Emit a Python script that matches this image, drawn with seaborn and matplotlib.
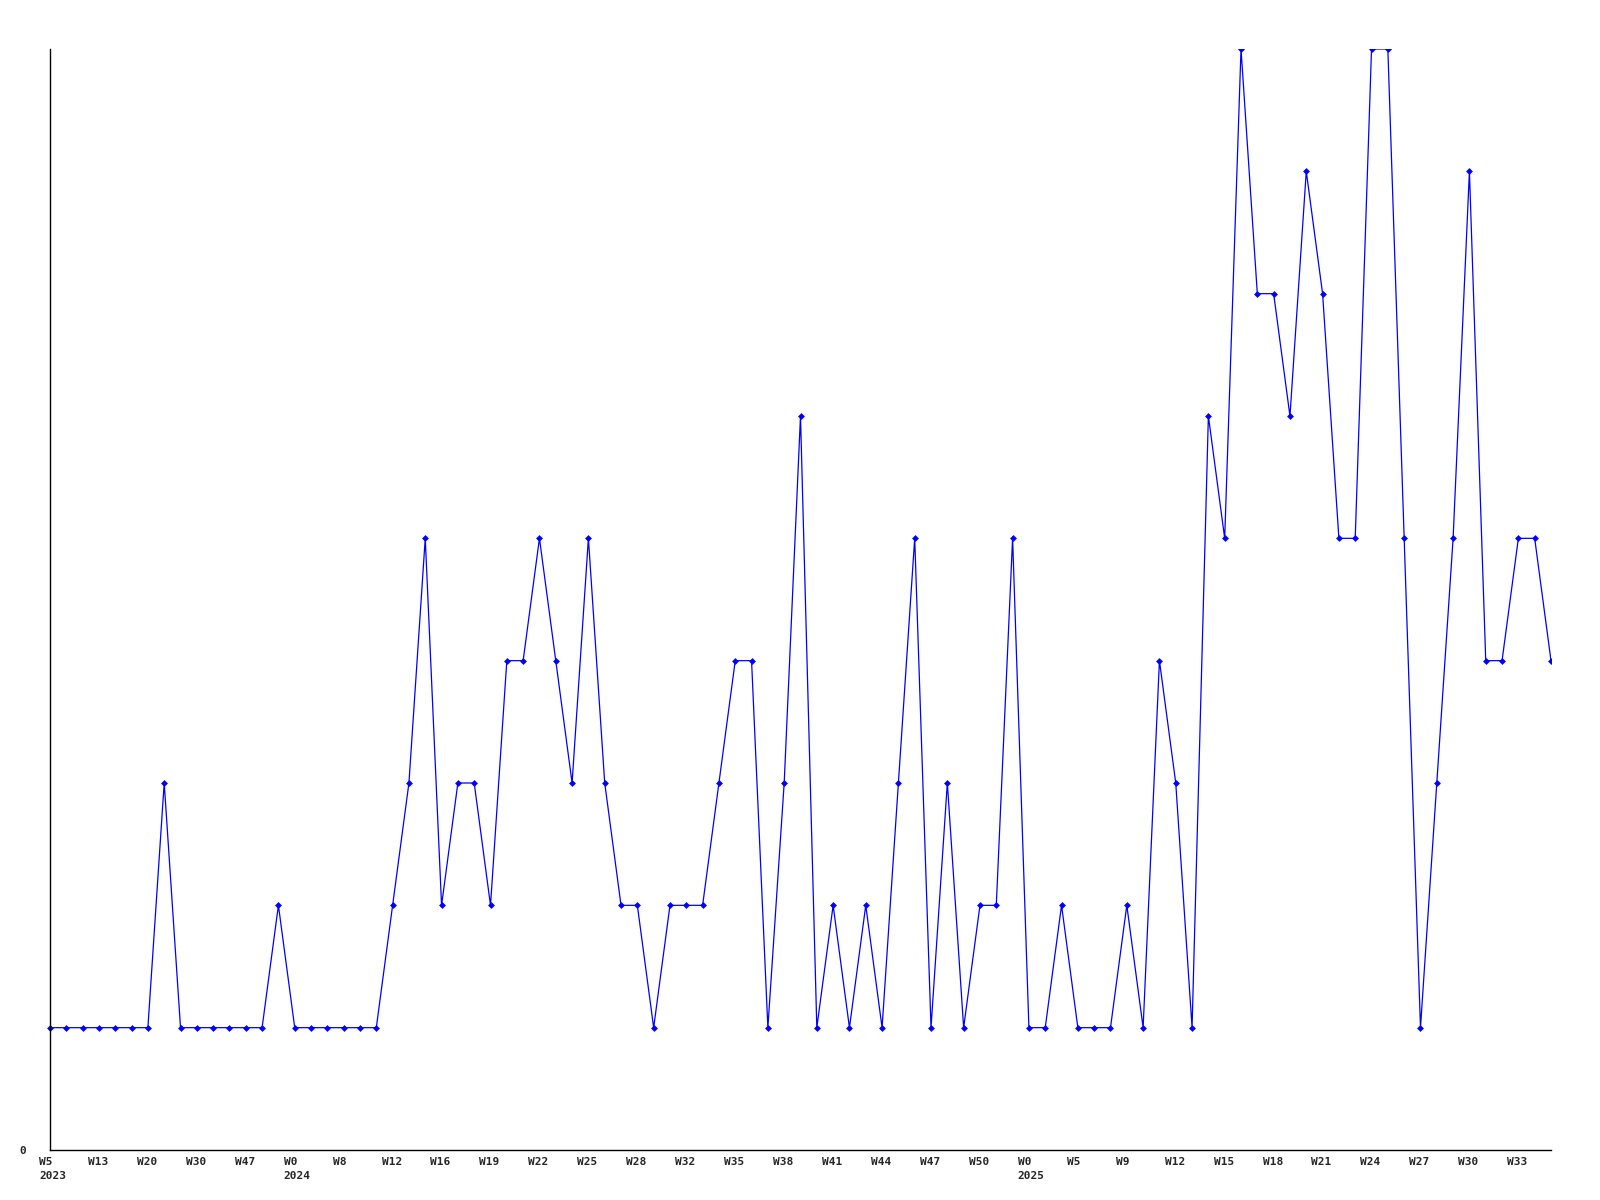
import matplotlib
matplotlib.use('Agg')
import matplotlib.pyplot as plt
import seaborn as sns
import pandas as pd

# weekly counts, one per point
counts = [
    1, 1, 1, 1, 1, 1, 1, 3, 1, 1, 1, 1, 1, 1, 2, 1, 1, 1, 1, 1,
    1, 2, 3, 5, 2, 3, 3, 2, 4, 4, 5, 4, 3, 5, 3, 2, 2, 1, 2, 2,
    2, 3, 4, 4, 1, 3, 6, 1, 2, 1, 2, 1, 3, 5, 1, 3, 1, 2, 2, 5,
    1, 1, 2, 1, 1, 1, 2, 1, 4, 3, 1, 6, 5, 9, 7, 7, 6, 8, 7, 5,
    5, 9, 9, 5, 1, 3, 5, 8, 4, 4, 5, 5, 4,
]

# labels shown on every third point
week_labels = [
    'W5', 'W13', 'W20', 'W30', 'W47', 'W0', 'W8', 'W12', 'W16', 'W19',
    'W22', 'W25', 'W28', 'W32', 'W35', 'W38', 'W41', 'W44', 'W47', 'W50',
    'W0', 'W5', 'W9', 'W12', 'W15', 'W18', 'W21', 'W24', 'W27', 'W30', 'W33',
]
year_labels = {0: '2023', 5: '2024', 20: '2025'}

df = pd.DataFrame({'idx': range(len(counts)), 'count': counts})
n = len(counts)
lead = 0.68  # labels start this far (in points) before their point

sns.set_style('white')
plt.rcParams['font.family'] = ['DejaVu Sans Mono']
plt.rcParams['font.weight'] = 'bold'

fig = plt.figure(figsize=(16, 12), dpi=100)
unit = 1501 / (n - 1)  # pixels per point
ax = fig.add_axes([(50 - lead * unit) / 1600, 1 - 1150 / 1200,
                   (1501 + lead * unit) / 1600, 1101 / 1200])

sns.lineplot(data=df, x='idx', y='count', ax=ax, color='#0000ff', linewidth=0.9,
             marker='D', markersize=3.5, markeredgewidth=0)

# spines first: moving a spine resets the tick labels
for side in ['top', 'right']:
    ax.spines[side].set_visible(False)
for side in ['left', 'bottom']:
    ax.spines[side].set_color('black')
    ax.spines[side].set_linewidth(1.0)
ax.spines['left'].set_position(('data', 0))
ax.spines['bottom'].set_bounds(0, n - 1)

tick_pos = [i - lead for i in range(0, n, 3)]
tick_txt = [w + ('\n' + year_labels[i] if i in year_labels else '')
            for i, w in enumerate(week_labels)]
ax.set_xticks(tick_pos)
ax.set_xticklabels(tick_txt, fontsize=8, fontweight='bold', linespacing=1.45,
                   ha='left', ma='left')

ax.set_yticks([0])
ax.set_yticklabels(['0'], fontsize=8, fontweight='bold')
ax.tick_params(axis='x', length=0, pad=5)
ax.tick_params(axis='y', length=0, pad=17)

ax.set_xlim(-lead, n - 1)
ax.set_ylim(0, 9)

ax.set_xlabel('')
ax.set_ylabel('')
ax.grid(False)

fig.savefig('out.png', dpi=100)
